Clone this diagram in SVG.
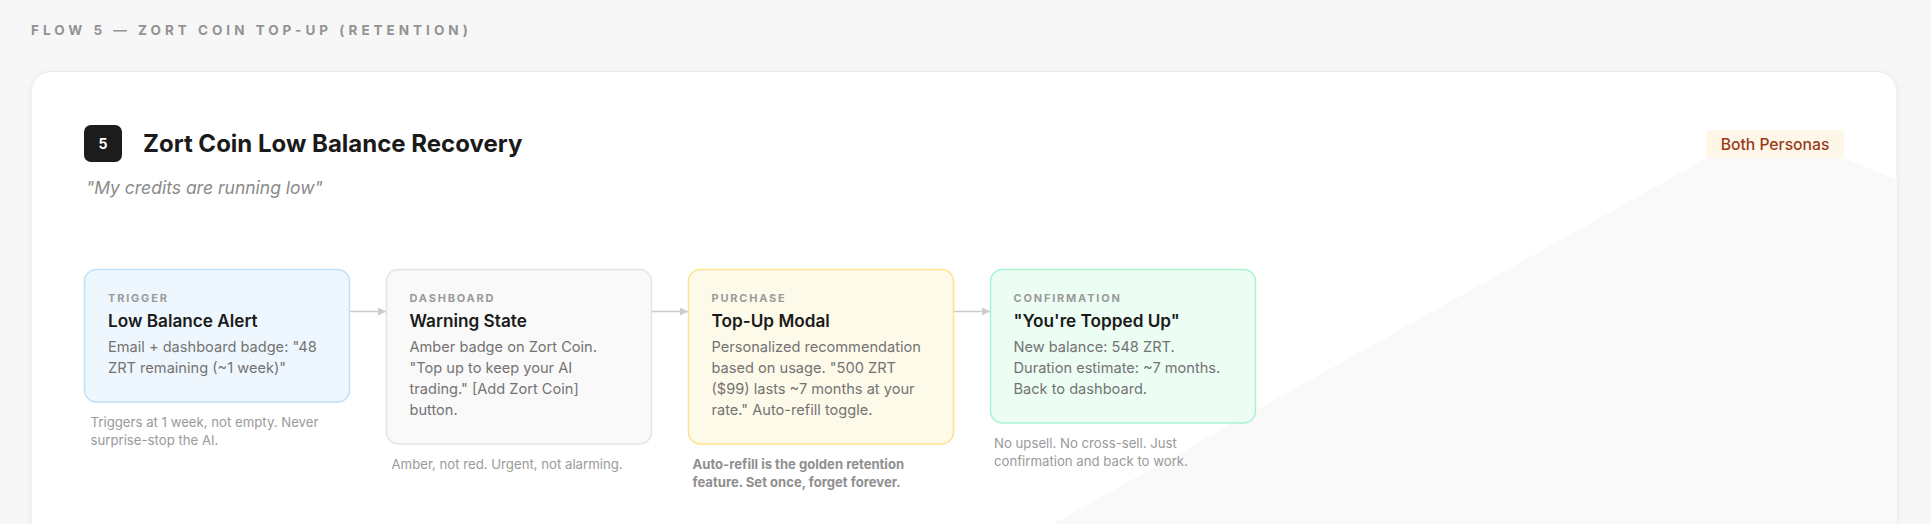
<svg xmlns="http://www.w3.org/2000/svg" width="1931" height="524" viewBox="0 0 1931 524">
  <style>
    text { font-family: Inter, "Noto Sans", "Liberation Sans", sans-serif; }
    .hdr { font-size: 13.5px; font-weight: 700; letter-spacing: 4px; fill: #939393; }
    .title { font-size: 24px; font-weight: 700; fill: #1a1a1a; }
    .sub { font-size: 17.5px; font-style: italic; fill: #8a8a8a; }
    .lbl { font-size: 11px; font-weight: 700; letter-spacing: 1.8px; fill: #9a9a9a; }
    .ntitle { font-size: 17.2px; font-weight: 600; fill: #1a1a1a; }
    .body { font-size: 14.6px; fill: #737373; }
    .note { font-size: 13.2px; fill: #9a9a9a; }
    .noteb { font-size: 13.1px; font-weight: 700; fill: #8f8f8f; }
    .conn { stroke: #cccccc; stroke-width: 1.5; fill: none; }
  </style>
  <defs>
    <marker id="arrow" viewBox="0 0 10 10" refX="10" refY="5" markerWidth="8" markerHeight="8" markerUnits="userSpaceOnUse" orient="auto">
      <path d="M0,0 L10,5 L0,10 z" fill="#cccccc"/>
    </marker>
    <filter id="shadow" x="-5%" y="-10%" width="110%" height="130%">
      <feDropShadow dx="0" dy="1" stdDeviation="3" flood-color="#000" flood-opacity="0.05"/>
    </filter>
    <clipPath id="cardclip">
      <rect x="31" y="71.5" width="1866" height="520" rx="20"/>
    </clipPath>
  </defs>

  <rect x="0" y="0" width="1931" height="524" fill="#f7f7f7"/>
  <text class="hdr" x="31" y="35">FLOW 5 — ZORT COIN TOP-UP (RETENTION)</text>

  <g id="card">
    <rect x="31" y="71.5" width="1866" height="520" rx="20" fill="#ffffff" stroke="#e9e9e9" stroke-width="1" filter="url(#shadow)"/>
    <path d="M1053,524 L1707,158 L1844,158 L1897,180 L1897,524 Z" fill="#f9f9f9" clip-path="url(#cardclip)"/>
  </g>

  <g id="header">
    <rect x="84" y="125" width="38" height="37" rx="7" fill="#1c1c1c"/>
    <text x="103" y="149" text-anchor="middle" font-size="14" font-weight="700" fill="#ffffff">5</text>
    <text class="title" x="143" y="152">Zort Coin Low Balance Recovery</text>
    <text class="sub" x="86" y="194">"My credits are running low"</text>
  </g>

  <g id="persona-badge">
    <rect x="1706" y="130" width="138" height="28" rx="4" fill="#fdf7e7"/>
    <text x="1775" y="149.5" text-anchor="middle" font-size="15.7" font-weight="500" fill="#9a3a1c">Both Personas</text>
  </g>

  <g id="connectors">
    <line class="conn" x1="350" y1="311.5" x2="386" y2="311.5" marker-end="url(#arrow)"/>
    <line class="conn" x1="651" y1="311.5" x2="688" y2="311.5" marker-end="url(#arrow)"/>
    <line class="conn" x1="953" y1="311.5" x2="990" y2="311.5" marker-end="url(#arrow)"/>
  </g>

  <g id="node-trigger">
    <rect x="84.5" y="269.5" width="265" height="132.5" rx="12" fill="#eff7fe" stroke="#bde2f7" stroke-width="1.5"/>
    <text class="lbl" x="108" y="302">TRIGGER</text>
    <text class="ntitle" x="108" y="327">Low Balance Alert</text>
    <text class="body" x="108" y="352">Email + dashboard badge: "48</text>
    <text class="body" x="108" y="373">ZRT remaining (~1 week)"</text>
    <text class="note" x="90.5" y="427">Triggers at 1 week, not empty. Never</text>
    <text class="note" x="90.5" y="445">surprise-stop the AI.</text>
  </g>

  <g id="node-dashboard">
    <rect x="386.5" y="269.5" width="265" height="174.5" rx="12" fill="#f9f9f9" stroke="#e4e4e4" stroke-width="1.5"/>
    <text class="lbl" x="409.5" y="302">DASHBOARD</text>
    <text class="ntitle" x="409.5" y="327">Warning State</text>
    <text class="body" x="409.5" y="352">Amber badge on Zort Coin.</text>
    <text class="body" x="409.5" y="373">"Top up to keep your AI</text>
    <text class="body" x="409.5" y="394">trading." [Add Zort Coin]</text>
    <text class="body" x="409.5" y="415">button.</text>
    <text class="note" x="391.5" y="469">Amber, not red. Urgent, not alarming.</text>
  </g>

  <g id="node-purchase">
    <rect x="688.5" y="269.5" width="265" height="174.5" rx="12" fill="#fefae9" stroke="#fbe38f" stroke-width="1.5"/>
    <text class="lbl" x="711.5" y="302">PURCHASE</text>
    <text class="ntitle" x="711.5" y="327">Top-Up Modal</text>
    <text class="body" x="711.5" y="352">Personalized recommendation</text>
    <text class="body" x="711.5" y="373">based on usage. "500 ZRT</text>
    <text class="body" x="711.5" y="394">($99) lasts ~7 months at your</text>
    <text class="body" x="711.5" y="415">rate." Auto-refill toggle.</text>
    <text class="noteb" x="692.5" y="469">Auto-refill is the golden retention</text>
    <text class="noteb" x="692.5" y="487">feature. Set once, forget forever.</text>
  </g>

  <g id="node-confirmation">
    <rect x="990.5" y="269.5" width="265" height="153.5" rx="12" fill="#ecfdf4" stroke="#a9f2d2" stroke-width="1.5"/>
    <text class="lbl" x="1013.5" y="302">CONFIRMATION</text>
    <text class="ntitle" x="1013.5" y="327">"You're Topped Up"</text>
    <text class="body" x="1013.5" y="352">New balance: 548 ZRT.</text>
    <text class="body" x="1013.5" y="373">Duration estimate: ~7 months.</text>
    <text class="body" x="1013.5" y="394">Back to dashboard.</text>
    <text class="note" x="994" y="448">No upsell. No cross-sell. Just</text>
    <text class="note" x="994" y="466">confirmation and back to work.</text>
  </g>
</svg>
